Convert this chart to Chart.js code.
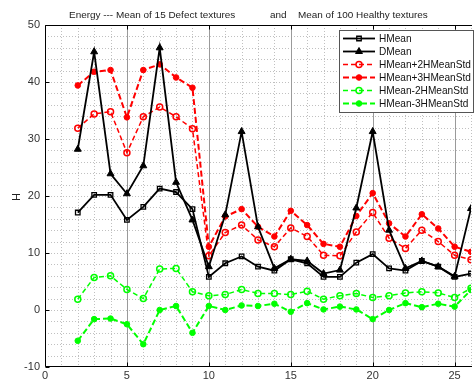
<!DOCTYPE html>
<html>
<head>
<meta charset="utf-8">
<script src="https://cdn.jsdelivr.net/npm/chart.js@4.4.1/dist/chart.umd.min.js"></script>
<style>
html,body{margin:0;padding:0;background:#fff;}
#wrap{width:476px;height:380px;position:relative;}
</style>
</head>
<body>
<div id="wrap"><canvas id="c" width="476" height="380"></canvas></div>
<script>
// ---- data ----
const xValues = [2,3,4,5,6,7,8,9,10,11,12,13,14,15,16,17,18,19,20,21,22,23,24,25,26];
const hMean   = [17.1,20.2,20.2,15.8,18.1,21.3,20.7,17.7,5.8,8.2,9.4,7.6,6.9,8.9,8.2,5.8,5.8,8.3,9.8,7.3,6.9,8.6,7.6,5.8,6.4];
const dMean   = [28.2,45.3,23.9,20.4,25.3,46.0,22.4,15.8,7.6,16.7,31.3,14.6,7.3,8.9,8.6,6.4,7.0,17.9,31.3,14.0,7.3,8.6,7.6,5.9,17.8];
const hPlus2  = [31.9,34.4,34.8,27.6,33.9,35.6,33.9,31.8,9.5,13.6,14.9,12.3,11.1,14.4,12.9,9.6,9.5,13.7,17.1,12.6,10.8,14.0,12.0,9.6,8.8];
const hPlus3  = [39.4,41.8,42.1,33.8,42.1,43.1,40.8,39.0,11.1,16.4,17.7,14.6,12.9,17.4,14.9,11.6,11.1,16.5,20.5,15.2,12.9,16.8,14.3,11.1,10.2];
const hMinus2 = [1.9,5.7,6.0,3.6,2.0,7.2,7.3,3.2,2.5,2.7,3.6,2.9,2.9,2.7,3.3,1.9,2.5,2.9,2.2,2.5,3.0,3.2,3.0,2.2,3.8];
const hMinus3 = [-5.4,-1.6,-1.5,-2.5,-6.0,0.0,0.7,-4.0,0.7,0.0,0.8,0.7,1.1,-0.3,1.2,0.1,0.6,0.1,-1.6,0.0,1.2,0.5,1.1,0.6,3.5];
const xTicks = [0,5,10,15,20,25];
const yTicks = [-10,0,10,20,30,40,50];
const seriesNames = ['HMean','DMean','HMean+2HMeanStd','HMean+3HMeanStd','HMean-2HMeanStd','HMean-3HMeanStd'];
const titleParts = ['Energy --- Mean of 15 Defect textures', 'and', 'Mean of 100 Healthy textures'];
const yLabel = 'H';

const FONT = "'Liberation Sans', Arial, sans-serif";
const pts = arr => arr.map((v,i)=>({x:xValues[i], y:v}));
const RED = '#ff0000', GREEN = '#00ff00';

const datasets = [
  {label:seriesNames[0], data:pts(hMean), borderColor:'#000', borderWidth:1.8, pointStyle:'rect', pointRadius:3.2, pointBorderWidth:1.3, pointBorderColor:'#000', pointBackgroundColor:'rgba(0,0,0,0)'},
  {label:seriesNames[1], data:pts(dMean), borderColor:'#000', borderWidth:1.8, pointStyle:'triangle', pointRadius:4, pointBorderWidth:1, pointBorderColor:'#000', pointBackgroundColor:'#000'},
  {label:seriesNames[2], data:pts(hPlus2), borderColor:RED, borderWidth:1.5, borderDash:[5,3], pointStyle:'circle', pointRadius:3, pointBorderWidth:1.5, pointBorderColor:RED, pointBackgroundColor:'rgba(0,0,0,0)'},
  {label:seriesNames[3], data:pts(hPlus3), borderColor:RED, borderWidth:2, borderDash:[6,3], pointStyle:'circle', pointRadius:2.8, pointBorderWidth:1, pointBorderColor:RED, pointBackgroundColor:RED},
  {label:seriesNames[4], data:pts(hMinus2), borderColor:GREEN, borderWidth:1.5, borderDash:[5,3], pointStyle:'circle', pointRadius:3, pointBorderWidth:1.5, pointBorderColor:GREEN, pointBackgroundColor:'rgba(0,0,0,0)'},
  {label:seriesNames[5], data:pts(hMinus3), borderColor:GREEN, borderWidth:2, borderDash:[6,3], pointStyle:'circle', pointRadius:2.8, pointBorderWidth:1, pointBorderColor:GREEN, pointBackgroundColor:GREEN}
];
datasets.forEach(d=>{d.fill=false; d.tension=0; d.pointHoverRadius=d.pointRadius;});

const decor = {
  id:'decor',
  beforeDatasetsDraw(chart){
    const {ctx, chartArea:a, scales:{x, y}} = chart;
    ctx.save();
    ctx.strokeStyle = '#c0c0c0'; ctx.lineWidth = 1; ctx.setLineDash([1,2]);
    for (let v = 1; v <= 26; v++) {
      if (v % 5 === 0) continue;
      const px = Math.round(x.getPixelForValue(v)) + 0.5;
      ctx.beginPath(); ctx.moveTo(px, a.top); ctx.lineTo(px, a.bottom); ctx.stroke();
    }
    for (let v = -8; v < 50; v += 2) {
      const py = Math.round(y.getPixelForValue(v)) + 0.5;
      ctx.beginPath(); ctx.moveTo(a.left, py); ctx.lineTo(a.right, py); ctx.stroke();
    }
    ctx.setLineDash([]);
    ctx.strokeStyle = '#9a9a9a';
    xTicks.forEach(v=>{ if(v===0) return;
      const px = Math.round(x.getPixelForValue(v)) + 0.5;
      ctx.beginPath(); ctx.moveTo(px, a.top); ctx.lineTo(px, a.bottom); ctx.stroke();
    });
    ctx.strokeStyle = '#000'; ctx.lineWidth = 1;
    const L = Math.round(a.left)+0.5, T = Math.round(a.top)+0.5, B = Math.round(a.bottom)-0.5;
    ctx.beginPath(); ctx.moveTo(a.right+1, T); ctx.lineTo(L, T); ctx.lineTo(L, B); ctx.lineTo(a.right+1, B); ctx.stroke();
    xTicks.forEach(v=>{
      const px = Math.round(x.getPixelForValue(v)) + 0.5;
      ctx.beginPath(); ctx.moveTo(px, B); ctx.lineTo(px, B-4); ctx.moveTo(px, T); ctx.lineTo(px, T+4); ctx.stroke();
    });
    yTicks.forEach(v=>{
      const py = Math.round(y.getPixelForValue(v)) + 0.5;
      ctx.beginPath(); ctx.moveTo(L, py); ctx.lineTo(L+4, py); ctx.stroke();
    });
    ctx.restore();
  },
  afterDraw(chart){
    const ctx = chart.ctx;
    ctx.save();
    ctx.fillStyle = '#222'; ctx.textBaseline = 'middle'; ctx.textAlign = 'left';
    ctx.font = '10px ' + FONT;
    const w3 = ctx.measureText(titleParts[2]).width;
    const fs = 10 * 130 / w3;
    ctx.font = fs.toFixed(2) + 'px ' + FONT;
    ctx.fillText(titleParts[0], 69, 15);
    ctx.fillText(titleParts[1], 270, 15);
    ctx.fillText(titleParts[2], 298, 15);
    ctx.save();
    ctx.translate(17, 197); ctx.rotate(-Math.PI/2);
    ctx.textAlign = 'center'; ctx.font = '11px ' + FONT; ctx.fillStyle = '#222';
    ctx.fillText(yLabel, 0, 0);
    ctx.restore();
    // legend
    const bx = 339.5, by = 30.5, bw = 134, bh = 82;
    ctx.fillStyle = '#fff'; ctx.fillRect(bx, by, bw, bh);
    ctx.strokeStyle = '#555'; ctx.lineWidth = 1; ctx.strokeRect(bx, by, bw, bh);
    ctx.font = '10px ' + FONT;
    const wl = ctx.measureText(seriesNames[3]).width;
    const lfs = 10 * 92 / wl;
    const rows = [38.5, 51.5, 64.5, 77.5, 90.5, 103.5];
    chart.data.datasets.forEach((d, i)=>{
      const yy = rows[i];
      ctx.strokeStyle = d.borderColor; ctx.lineWidth = d.borderWidth;
      ctx.setLineDash(d.borderDash || []);
      ctx.beginPath(); ctx.moveTo(343, yy); ctx.lineTo(375, yy); ctx.stroke();
      ctx.setLineDash([]);
      ctx.fillStyle = d.pointBackgroundColor; ctx.strokeStyle = d.pointBorderColor; ctx.lineWidth = d.pointBorderWidth;
      Chart.helpers.drawPoint(ctx, {pointStyle:d.pointStyle, radius:d.pointRadius, rotation:0, borderWidth:d.pointBorderWidth}, 359, yy);
      ctx.fillStyle = '#111'; ctx.font = lfs.toFixed(2) + 'px ' + FONT; ctx.textAlign = 'left'; ctx.textBaseline = 'middle';
      ctx.fillText(d.label, 379, yy + 0.5);
    });
    ctx.restore();
  }
};

new Chart(document.getElementById('c'), {
  type:'line',
  data:{datasets},
  options:{
    responsive:false, animation:false, devicePixelRatio:1,
    layout:{padding:{top:25, left:0, right:0, bottom:0}},
    plugins:{legend:{display:false}, title:{display:false}, tooltip:{enabled:false}},
    scales:{
      x:{type:'linear', min:0, max:26,
        afterBuildTicks:s=>{ s.ticks = xTicks.map(v=>({value:v})); },
        afterFit:s=>{ s.height = 13; },
        grid:{display:false, drawTicks:false}, border:{display:false},
        ticks:{padding:2, autoSkip:false, maxRotation:0, color:'#333', font:{family:FONT, size:11}}
      },
      y:{type:'linear', min:-10, max:50,
        afterBuildTicks:s=>{ s.ticks = yTicks.map(v=>({value:v})); },
        afterFit:s=>{ s.width = 45; },
        grid:{display:false, drawTicks:false}, border:{display:false},
        ticks:{padding:5, autoSkip:false, color:'#333', font:{family:FONT, size:11}}
      }
    }
  },
  plugins:[decor]
});
</script>
</body>
</html>
